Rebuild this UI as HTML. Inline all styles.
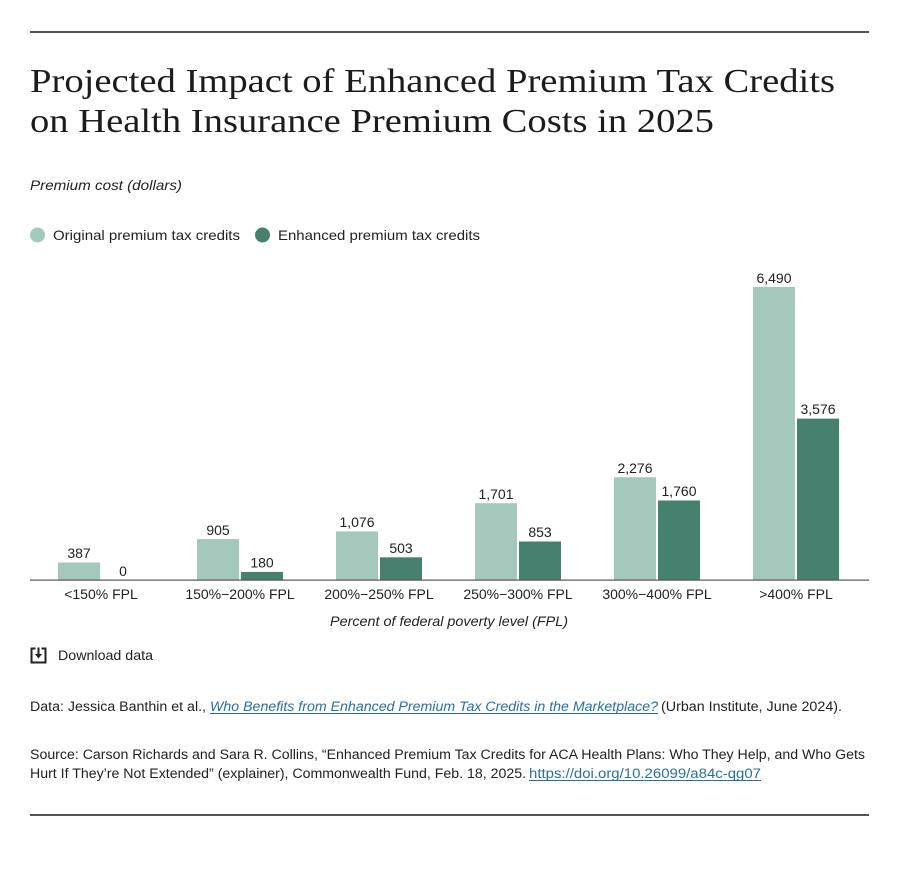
<!DOCTYPE html>
<html>
<head>
<meta charset="utf-8">
<style>
  html, body { margin: 0; padding: 0; background: #ffffff; }
  svg { display: block; }
  .sans { font-family: "Liberation Sans", sans-serif; }
  .serif { font-family: "Liberation Serif", serif; }
</style>
</head>
<body>
<svg width="900" height="877" viewBox="0 0 900 877" xmlns="http://www.w3.org/2000/svg">
  <rect width="900" height="877" fill="#ffffff"/>
  <!-- top rule -->
  <rect x="30" y="31" width="839" height="2" fill="#555555"/>

  <!-- title -->
  <text class="serif" x="30" y="92" font-size="34" fill="#1c1c1c" textLength="805" lengthAdjust="spacingAndGlyphs">Projected Impact of Enhanced Premium Tax Credits</text>
  <text class="serif" x="30" y="132" font-size="34" fill="#1c1c1c" textLength="684" lengthAdjust="spacingAndGlyphs">on Health Insurance Premium Costs in 2025</text>

  <!-- y axis title -->
  <text class="sans" x="30" y="190" font-size="14" font-style="italic" fill="#222" textLength="152" lengthAdjust="spacingAndGlyphs">Premium cost (dollars)</text>

  <!-- legend -->
  <circle cx="37.5" cy="235" r="7.5" fill="#a4c9bc"/>
  <text class="sans" x="53" y="240" font-size="14" fill="#222" textLength="187" lengthAdjust="spacingAndGlyphs">Original premium tax credits</text>
  <circle cx="262.5" cy="235" r="7.5" fill="#46806e"/>
  <text class="sans" x="278" y="240" font-size="14" fill="#222" textLength="202" lengthAdjust="spacingAndGlyphs">Enhanced premium tax credits</text>

  <!-- bars -->
  <g>
    <!-- group 0 -->
    <rect x="58" y="562.5" width="42" height="17.5" fill="#a4c9bc"/>
    <!-- group 1 -->
    <rect x="197" y="539.1" width="42" height="40.9" fill="#a4c9bc"/>
    <rect x="241" y="571.9" width="42" height="8.1" fill="#46806e"/>
    <!-- group 2 -->
    <rect x="336" y="531.4" width="42" height="48.6" fill="#a4c9bc"/>
    <rect x="380" y="557.3" width="42" height="22.7" fill="#46806e"/>
    <!-- group 3 -->
    <rect x="475" y="503.2" width="42" height="76.8" fill="#a4c9bc"/>
    <rect x="519" y="541.5" width="42" height="38.5" fill="#46806e"/>
    <!-- group 4 -->
    <rect x="614" y="477.2" width="42" height="102.8" fill="#a4c9bc"/>
    <rect x="658" y="500.5" width="42" height="79.5" fill="#46806e"/>
    <!-- group 5 -->
    <rect x="753" y="287" width="42" height="293" fill="#a4c9bc"/>
    <rect x="797" y="418.6" width="42" height="161.4" fill="#46806e"/>
  </g>

  <!-- value labels -->
  <g class="sans" font-size="14" fill="#222" text-anchor="middle">
    <text x="79" y="558">387</text>
    <text x="123" y="576">0</text>
    <text x="218" y="535">905</text>
    <text x="262" y="567.5">180</text>
    <text x="357" y="527">1,076</text>
    <text x="401" y="553">503</text>
    <text x="496" y="499">1,701</text>
    <text x="540" y="537">853</text>
    <text x="635" y="473">2,276</text>
    <text x="679" y="496">1,760</text>
    <text x="774" y="283">6,490</text>
    <text x="818" y="414">3,576</text>
  </g>

  <!-- x axis line -->
  <rect x="30" y="579.5" width="839" height="1.2" fill="#555555"/>

  <!-- category labels -->
  <g class="sans" font-size="14" fill="#222" text-anchor="middle">
    <text x="101" y="599">&lt;150% FPL</text>
    <text x="240" y="599">150%−200% FPL</text>
    <text x="379" y="599">200%−250% FPL</text>
    <text x="518" y="599">250%−300% FPL</text>
    <text x="657" y="599">300%−400% FPL</text>
    <text x="796" y="599">&gt;400% FPL</text>
  </g>

  <!-- x axis title -->
  <text class="sans" x="449" y="626" font-size="14" font-style="italic" fill="#222" text-anchor="middle" textLength="238" lengthAdjust="spacingAndGlyphs">Percent of federal poverty level (FPL)</text>

  <!-- download icon -->
  <g stroke="#222" stroke-width="2" fill="none" stroke-linecap="square">
    <path d="M34.5,648.5 H31.5 V662.5 H45.5 V648.5 H42.5"/>
    <path d="M38.5,648.5 V655"/>
  </g>
  <polygon points="35,654 42,654 38.5,658.5" fill="#222"/>
  <text class="sans" x="58" y="660" font-size="14" fill="#222" textLength="95" lengthAdjust="spacingAndGlyphs">Download data</text>

  <!-- footer: data -->
  <g class="sans" font-size="13.5" fill="#222">
    <text x="30" y="711" textLength="176" lengthAdjust="spacingAndGlyphs">Data: Jessica Banthin et al.,</text>
    <text x="210" y="711" font-style="italic" fill="#2a6f9e" textLength="448" lengthAdjust="spacingAndGlyphs">Who Benefits from Enhanced Premium Tax Credits in the Marketplace?</text>
    <text x="661" y="711" textLength="181" lengthAdjust="spacingAndGlyphs">(Urban Institute, June 2024).</text>
    <rect x="210" y="713" width="448" height="1" fill="#2a6f9e"/>

    <text x="30" y="759" textLength="835" lengthAdjust="spacingAndGlyphs">Source: Carson Richards and Sara R. Collins, “Enhanced Premium Tax Credits for ACA Health Plans: Who They Help, and Who Gets</text>
    <text x="30" y="778" textLength="496" lengthAdjust="spacingAndGlyphs">Hurt If They’re Not Extended” (explainer), Commonwealth Fund, Feb. 18, 2025.</text>
    <text x="529" y="778" fill="#2a6f9e" textLength="232" lengthAdjust="spacingAndGlyphs">https://doi.org/10.26099/a84c-qg07</text>
    <rect x="529" y="780" width="232" height="1" fill="#2a6f9e"/>
  </g>

  <!-- bottom rule -->
  <rect x="30" y="814" width="839" height="2" fill="#555555"/>
</svg>
</body>
</html>
